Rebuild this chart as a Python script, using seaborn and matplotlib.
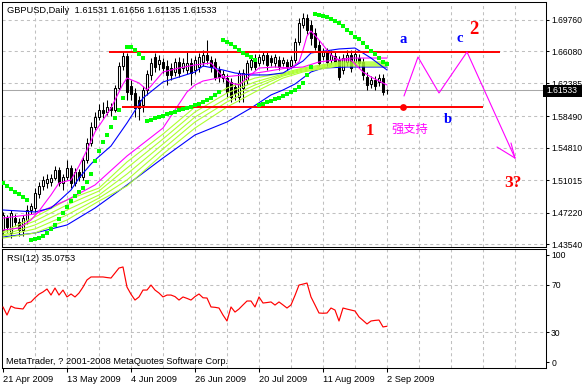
import numpy as np
import matplotlib
matplotlib.use("Agg")
import matplotlib.pyplot as plt
import seaborn as sns
from matplotlib.patches import Rectangle

# ---------------- data ----------------
symbol_title = "GBPUSD,Daily  1.61531 1.61656 1.61135 1.61533"
rsi_title = "RSI(12) 35.0753"
copyright_text = "MetaTrader, ? 2001-2008 MetaQuotes Software Corp."

date_labels = ['21 Apr 2009', '13 May 2009', '4 Jun 2009', '26 Jun 2009',
               '20 Jul 2009', '11 Aug 2009', '2 Sep 2009']
date_label_bars = [0, 16, 32, 48, 64, 80, 96]

price_ticks = [1.69760, 1.66080, 1.62385, 1.58490, 1.54810, 1.51015, 1.47220, 1.43540]
price_tick_labels = ['1.69760', '1.66080', '1.62385', '1.58490', '1.54810', '1.51015', '1.47220', '1.43540']
rsi_tick_pos = [95, 70, 30, 5]
rsi_tick_labels = ['100', '70', '30', '0']
last_price = 1.61533
last_price_label = '1.61533'

opens = [1.4519, 1.4659, 1.4484, 1.4659, 1.4613, 1.4519, 1.4636, 1.4753, 1.4776, 1.4940,
         1.5034, 1.5069, 1.5081, 1.5127, 1.5221, 1.5069, 1.5139, 1.5244, 1.5069, 1.5198,
         1.5139, 1.5338, 1.5537, 1.5724, 1.5841, 1.5923, 1.5900, 1.5958, 1.5923, 1.6180,
         1.6438, 1.6555, 1.6204, 1.6122, 1.6040, 1.5982, 1.6157, 1.6333, 1.6543, 1.6461,
         1.6485, 1.6438, 1.6414, 1.6368, 1.6485, 1.6414, 1.6391, 1.6473, 1.6391, 1.6426,
         1.6485, 1.6567, 1.6508, 1.6485, 1.6391, 1.6297, 1.6297, 1.6251, 1.6192, 1.6075,
         1.6180, 1.6274, 1.6426, 1.6531, 1.6473, 1.6508, 1.6567, 1.6531, 1.6473, 1.6508,
         1.6473, 1.6485, 1.6438, 1.6508, 1.6719, 1.6918, 1.6999, 1.6918, 1.6824, 1.6684,
         1.6555, 1.6602, 1.6508, 1.6555, 1.6508, 1.6391, 1.6485, 1.6567, 1.6485, 1.6531,
         1.6485, 1.6309, 1.6227, 1.6274, 1.6251, 1.6297, 1.61531]
highs = [1.4730, 1.4695, 1.4753, 1.4706, 1.4659, 1.4695, 1.4812, 1.4835, 1.5010, 1.5081,
         1.5151, 1.5174, 1.5174, 1.5268, 1.5256, 1.5174, 1.5338, 1.5280, 1.5244, 1.5233,
         1.5385, 1.5595, 1.5783, 1.5900, 1.5993, 1.6017, 1.6040, 1.6005, 1.6216, 1.6485,
         1.6613, 1.6590, 1.6274, 1.6180, 1.6087, 1.6204, 1.6391, 1.6531, 1.6590, 1.6567,
         1.6531, 1.6508, 1.6473, 1.6531, 1.6543, 1.6531, 1.6602, 1.6531, 1.6555, 1.6590,
         1.6625, 1.6742, 1.6555, 1.6531, 1.6438, 1.6391, 1.6344, 1.6297, 1.6239, 1.6391,
         1.6403, 1.6508, 1.6555, 1.6578, 1.6578, 1.6602, 1.6602, 1.6567, 1.6578, 1.6555,
         1.6543, 1.6520, 1.6555, 1.6765, 1.6999, 1.7058, 1.7046, 1.6976, 1.6882, 1.6742,
         1.6648, 1.6648, 1.6625, 1.6602, 1.6555, 1.6578, 1.6625, 1.6625, 1.6625, 1.6578,
         1.6531, 1.6368, 1.6321, 1.6321, 1.6344, 1.6344, 1.61656]
lows = [1.4461, 1.4496, 1.4425, 1.4566, 1.4449, 1.4449, 1.4589, 1.4706, 1.4730, 1.4893,
        1.4987, 1.5010, 1.5034, 1.5104, 1.5034, 1.4987, 1.5104, 1.5010, 1.5034, 1.5092,
        1.5104, 1.5303, 1.5502, 1.5689, 1.5806, 1.5829, 1.5865, 1.5853, 1.5900, 1.6157,
        1.6391, 1.6040, 1.6040, 1.5841, 1.5806, 1.5900, 1.6099, 1.6274, 1.6368, 1.6391,
        1.6356, 1.6216, 1.6274, 1.6321, 1.6309, 1.6368, 1.6344, 1.6216, 1.6344, 1.6368,
        1.6438, 1.6461, 1.6368, 1.6274, 1.6251, 1.6251, 1.6075, 1.6017, 1.6040, 1.6017,
        1.6017, 1.6227, 1.6391, 1.6391, 1.6438, 1.6461, 1.6391, 1.6438, 1.6426, 1.6391,
        1.6438, 1.6391, 1.6414, 1.6473, 1.6684, 1.6882, 1.6812, 1.6684, 1.6625, 1.6438,
        1.6508, 1.6438, 1.6461, 1.6438, 1.6274, 1.6344, 1.6438, 1.6368, 1.6438, 1.6414,
        1.6274, 1.6157, 1.6180, 1.6157, 1.6204, 1.6099, 1.61135]
closes = [1.4695, 1.4554, 1.4718, 1.4613, 1.4519, 1.4659, 1.4753, 1.4800, 1.4952, 1.5034,
          1.5104, 1.5116, 1.5127, 1.5221, 1.5069, 1.5139, 1.5244, 1.5069, 1.5198, 1.5139,
          1.5338, 1.5537, 1.5724, 1.5841, 1.5923, 1.5888, 1.5958, 1.5923, 1.6180, 1.6438,
          1.6555, 1.6134, 1.6110, 1.5946, 1.5946, 1.6157, 1.6344, 1.6473, 1.6426, 1.6508,
          1.6414, 1.6333, 1.6333, 1.6485, 1.6356, 1.6473, 1.6473, 1.6356, 1.6508, 1.6543,
          1.6567, 1.6508, 1.6426, 1.6309, 1.6309, 1.6344, 1.6134, 1.6075, 1.6122, 1.6356,
          1.6356, 1.6473, 1.6508, 1.6426, 1.6543, 1.6567, 1.6450, 1.6485, 1.6543, 1.6426,
          1.6508, 1.6426, 1.6508, 1.6719, 1.6941, 1.6999, 1.6859, 1.6765, 1.6660, 1.6473,
          1.6602, 1.6485, 1.6567, 1.6485, 1.6309, 1.6531, 1.6567, 1.6414, 1.6578, 1.6473,
          1.6333, 1.6216, 1.6274, 1.6204, 1.6297, 1.6134, 1.61533]

sar = [1.5069, 1.5034, 1.4999, 1.4964, 1.4940, 1.4905, 1.4870,
       1.4402, 1.4414, 1.4425, 1.4449, 1.4484, 1.4531, 1.4578, 1.4648, 1.4718, 1.4788,
       1.4858, 1.4917, 1.4964, 1.5010, 1.5081, 1.5174, 1.5326, 1.5443, 1.5549, 1.5631,
       1.5724, 1.5829, 1.5923, 1.6063,
       1.6660, 1.6660, 1.6625, 1.6578, 1.6531,
       1.5794, 1.5806, 1.5829, 1.5841, 1.5853, 1.5876, 1.5888, 1.5900, 1.5923, 1.5935,
       1.5946, 1.5958, 1.5982, 1.5993, 1.6017, 1.6040, 1.6063, 1.6099, 1.6134,
       1.6742, 1.6719, 1.6695, 1.6660, 1.6625, 1.6590, 1.6567, 1.6543, 1.6508,
       1.5982, 1.5993, 1.6017, 1.6028, 1.6052, 1.6063, 1.6087, 1.6110, 1.6134, 1.6157,
       1.6192, 1.6239, 1.6333, 1.6426,
       1.7046, 1.7034, 1.7023, 1.7011, 1.6988, 1.6964, 1.6941, 1.6906, 1.6859, 1.6824,
       1.6777, 1.6754, 1.6707, 1.6660, 1.6613, 1.6578, 1.6531, 1.6485, 1.6461]

rsi = [51.3, 44.5, 52.0, 50.4, 50.0, 49.6, 54.6, 55.5, 59.0, 62.0,
       63.9, 66.4, 61.3, 67.2, 61.3, 65.5, 59.7, 62.2, 59.7, 63.0,
       68.0, 74.0, 76.5, 76.5, 76.5, 76.5, 76.0, 75.6, 79.8, 84.0,
       84.9, 68.0, 62.0, 57.1, 59.7, 65.5, 65.5, 69.7, 65.5, 63.0,
       59.7, 61.3, 61.3, 60.0, 57.1, 59.7, 58.5, 57.1, 60.0, 62.2,
       59.0, 58.8, 51.3, 51.0, 50.4, 44.5, 39.5, 51.3, 47.0, 49.6,
       53.0, 56.3, 56.3, 51.3, 59.7, 54.6, 55.0, 55.5, 52.9, 55.5,
       53.0, 50.4, 53.0, 61.0, 69.7, 70.5, 71.4, 59.7, 53.0, 46.2,
       46.0, 46.2, 50.4, 48.7, 39.5, 50.4, 49.5, 48.7, 47.9, 42.9,
       40.0, 37.0, 39.5, 40.0, 40.3, 34.5, 35.08]

ma_fast_bars = [0, 4, 7, 9, 12, 14, 17, 19, 21, 23, 25, 27, 29, 30, 31, 34, 36, 37, 40, 44,
                48, 52, 55, 57, 59, 61, 64, 68, 72, 74, 75, 76, 77, 79, 82, 84, 87, 90, 92, 95, 96]
ma_fast = [1.4519, 1.4542, 1.4636, 1.4741, 1.4929, 1.5069, 1.5104, 1.5268, 1.5455, 1.5666,
           1.5806, 1.5946, 1.6134, 1.6227, 1.6297, 1.6239, 1.6157, 1.6204, 1.6368, 1.6414,
           1.6450, 1.6473, 1.6309, 1.6239, 1.6216, 1.6297, 1.6414, 1.6426, 1.6414, 1.6485,
           1.6625, 1.6789, 1.6847, 1.6742, 1.6567, 1.6508, 1.6508, 1.6368, 1.6309, 1.6239, 1.6216]

blue_mid_bars = [0, 8, 12, 14, 17, 19, 22, 23, 27, 31, 35, 40, 44, 48, 50, 55, 58, 62, 66, 70,
                 75, 77, 84, 88, 92, 96]
blue_mid = [1.4753, 1.4730, 1.4776, 1.4858, 1.4987, 1.5127, 1.5291, 1.5338, 1.5502, 1.5771,
            1.6063, 1.6251, 1.6309, 1.6368, 1.6438, 1.6391, 1.6356, 1.6333, 1.6333, 1.6356,
            1.6496, 1.6590, 1.6637, 1.6648, 1.6531, 1.6391]

mag_slow_bars = [0, 8, 16, 23, 31, 40, 46, 48, 50, 55, 60, 65, 71, 75, 79, 87, 96]
mag_slow = [1.4659, 1.4706, 1.4870, 1.5046, 1.5385, 1.5712, 1.6134, 1.6216, 1.6262, 1.6309,
            1.6333, 1.6368, 1.6414, 1.6426, 1.6485, 1.6531, 1.6531]

blue_slow_bars = [0, 8, 16, 23, 31, 40, 48, 56, 62, 67, 70, 73, 77, 80, 86, 96]
blue_slow = [1.4437, 1.4484, 1.4578, 1.4776, 1.5046, 1.5361, 1.5631, 1.5783, 1.5946, 1.6099,
             1.6157, 1.6227, 1.6368, 1.6414, 1.6426, 1.6426]

green_bars = [0, 8, 16, 24, 31, 40, 48, 56, 63, 70, 75, 84, 96]
green_1 = [1.4496, 1.4671, 1.4870, 1.5010, 1.5315, 1.5642, 1.5958, 1.6180, 1.6297, 1.6356, 1.6414, 1.6485, 1.6485]
green_2 = [1.4484, 1.4624, 1.4812, 1.4975, 1.5244, 1.5584, 1.5900, 1.6122, 1.6251, 1.6344, 1.6403, 1.6473, 1.6473]
green_3 = [1.4461, 1.4578, 1.4753, 1.4929, 1.5174, 1.5525, 1.5841, 1.6063, 1.6216, 1.6333, 1.6391, 1.6461, 1.6461]
green_4 = [1.4449, 1.4531, 1.4695, 1.4893, 1.5104, 1.5467, 1.5783, 1.6017, 1.6180, 1.6321, 1.6379, 1.6450, 1.6450]
green_5 = [1.4425, 1.4484, 1.4636, 1.4858, 1.5034, 1.5408, 1.5712, 1.5958, 1.6134, 1.6297, 1.6368, 1.6438, 1.6438]

resistance_level = 1.6602
resistance_span = [26.5, 124.25]
support_level = 1.5958
support_span = [29.75, 120.0]
support_dot_bar = [100.0]
support_dot_price = [1.5958]

zigzag_bars = [100.25, 103.75, 109.0, 116.0, 128.0]
zigzag_prices = [1.6087, 1.6543, 1.6122, 1.6602, 1.5361]
arrow_wing_bars = [123.5, 127.0]
arrow_wing_prices = [1.5490, 1.5537]

labels_text = ['a', 'c', '2', '1', '强支持', 'b', '3?']
labels_bar = [100.0, 114.25, 117.6, 91.75, 101.75, 111.25, 127.5]
labels_price = [1.6748, 1.6762, 1.6859, 1.5677, 1.5701, 1.5806, 1.5069]
labels_color = ['#0000FF', '#0000FF', '#FF0000', '#FF0000', '#FF00FF', '#0000FF', '#FF0000']
labels_size = [10.5, 10.5, 13.5, 12, 8.8, 10.5, 12.5]

# ---------------- style ----------------
sns.set_style("white")
plt.rcParams['font.family'] = ['Liberation Sans', 'DejaVu Sans']
plt.rcParams['lines.scale_dashes'] = False
plt.rcParams['axes.linewidth'] = 0.75

W, H = 582, 386
fig = plt.figure(figsize=(W / 100, H / 100), dpi=100)
fig.patch.set_facecolor('white')

def fpos(x0, y0, x1, y1):
    return [x0 / W, 1 - y1 / H, (x1 - x0) / W, (y1 - y0) / H]

ax = fig.add_axes(fpos(2, 2, 546, 247))
ax2 = fig.add_axes(fpos(2, 249, 546, 368))

xlim = (-0.25, 135.75)
grid_kw = dict(color='#C0C0C0', lw=0.75, ls=(0, (2.2, 2.2)), zorder=0)
grid_bars = np.arange(8, 136, 8)

n = len(closes)
assert len(opens) == n and len(highs) == n and len(lows) == n and len(sar) == n and len(rsi) == n
bars = np.arange(n)
o = np.array(opens); c = np.array(closes); h = np.array(highs); l = np.array(lows)

# ---------------- main panel ----------------
for gx in grid_bars:
    ax.axvline(gx, **grid_kw)
for py in price_ticks:
    ax.axhline(py, **grid_kw)
ax.axhline(last_price, color='#A8A8A8', lw=0.75, zorder=0.5)

ax.vlines(bars, l, h, color='black', lw=0.75, zorder=2)
up = c >= o
bottoms = np.minimum(o, c)
heights = np.maximum(np.abs(c - o), 0.00005)
ax.bar(bars, heights, bottom=bottoms, width=0.5,
       color=np.where(up, 'white', 'black'), edgecolor='black', linewidth=0.75, zorder=2.5)

lw = 0.8
sns.lineplot(x=blue_slow_bars, y=blue_slow, ax=ax, color='#0000FF', lw=lw, zorder=3, estimator=None, sort=False)
for g in [green_5, green_4, green_3, green_2, green_1]:
    sns.lineplot(x=green_bars, y=g, ax=ax, color='#ADFF2F', lw=lw, zorder=3, estimator=None, sort=False)
sns.lineplot(x=mag_slow_bars, y=mag_slow, ax=ax, color='#FF00FF', lw=lw, zorder=3.2, estimator=None, sort=False)
sns.lineplot(x=blue_mid_bars, y=blue_mid, ax=ax, color='#0000FF', lw=lw, zorder=3.3, estimator=None, sort=False)
sns.lineplot(x=ma_fast_bars, y=ma_fast, ax=ax, color='#FF00FF', lw=lw, zorder=3.4, estimator=None, sort=False)

sns.scatterplot(x=bars, y=sar, ax=ax, color='#00FF00', marker='s', s=9, linewidth=0, zorder=4)

ax.hlines(resistance_level, resistance_span[0], resistance_span[1], color='#FF0000', lw=1.4, zorder=3.5)
ax.hlines(support_level, support_span[0], support_span[1], color='#FF0000', lw=1.4, zorder=3.5)
sns.scatterplot(x=support_dot_bar, y=support_dot_price, ax=ax, color='#FF0000', s=24, linewidth=0, zorder=4)

sns.lineplot(x=zigzag_bars, y=zigzag_prices, ax=ax, color='#FF00FF', lw=lw, zorder=3.5, estimator=None, sort=False)
for wb, wp in zip(arrow_wing_bars, arrow_wing_prices):
    sns.lineplot(x=[wb, zigzag_bars[-1]], y=[wp, zigzag_prices[-1]], ax=ax, color='#FF00FF',
                 lw=lw, zorder=3.5, estimator=None, sort=False)

for t, xb, yp, col, sz in zip(labels_text, labels_bar, labels_price, labels_color, labels_size):
    if t == '强支持':
        ax.text(xb, yp, t, color=col, fontsize=sz, ha='center', va='center',
                family=['Noto Sans CJK SC', 'DejaVu Sans'], zorder=5)
    else:
        ax.text(xb, yp, t, color=col, fontsize=sz, ha='center', va='center',
                family=['Liberation Serif', 'DejaVu Serif'], fontweight='bold', zorder=5)

ax.set_xlim(*xlim)
ax.set_ylim(1.43201, 1.71866)
ax.set_xticks([])
ax.yaxis.tick_right()
ax.set_yticks(price_ticks)
ax.set_yticklabels(price_tick_labels)
ax.tick_params(axis='y', right=True, left=False, length=2.5, width=0.75, pad=1.2,
               labelsize=6.2, colors='black')
ax.set_xlabel(''); ax.set_ylabel('')
for sp in ax.spines.values():
    sp.set_color('black'); sp.set_linewidth(0.75); sp.set_visible(True)

# ---------------- RSI panel ----------------
for gx in grid_bars:
    ax2.axvline(gx, **grid_kw)
for ry in [70, 30]:
    ax2.axhline(ry, **grid_kw)
sns.lineplot(x=bars, y=rsi, ax=ax2, color='#FF0000', lw=0.85, zorder=3, estimator=None, sort=False)
ax2.set_xlim(*xlim)
ax2.set_ylim(0, 100)
ax2.yaxis.tick_right()
ax2.set_yticks(rsi_tick_pos)
ax2.set_yticklabels(rsi_tick_labels)
ax2.tick_params(axis='y', right=True, left=False, length=2.5, width=0.75, pad=1.2,
                labelsize=6.2, colors='black')
ax2.set_xticks(date_label_bars)
ax2.set_xticklabels(date_labels)
for lab in ax2.get_xticklabels():
    lab.set_horizontalalignment('left')
ax2.tick_params(axis='x', bottom=True, length=3, width=0.75, pad=2, labelsize=6.7, colors='black')
ax2.set_xlabel(''); ax2.set_ylabel('')
for sp in ax2.spines.values():
    sp.set_color('black'); sp.set_linewidth(0.75); sp.set_visible(True)

# ---------------- texts ----------------
fig.text(7 / W, 1 - 10.5 / H, symbol_title, fontsize=6.7, ha='left', va='center', color='black')
fig.text(7 / W, 1 - 258.5 / H, rsi_title, fontsize=6.7, ha='left', va='center', color='black')
fig.text(6 / W, 1 - 361 / H, copyright_text, fontsize=6.7, ha='left', va='center', color='black')

fig.patches.append(Rectangle((543 / W, 1 - 96.5 / H), 39 / W, 12 / H, transform=fig.transFigure,
                             facecolor='black', edgecolor='none', zorder=10))
fig.text(546.5 / W, 1 - 90.5 / H, last_price_label, fontsize=6.2, ha='left', va='center',
         color='white', zorder=11)

fig.savefig('out.png', dpi=100)
